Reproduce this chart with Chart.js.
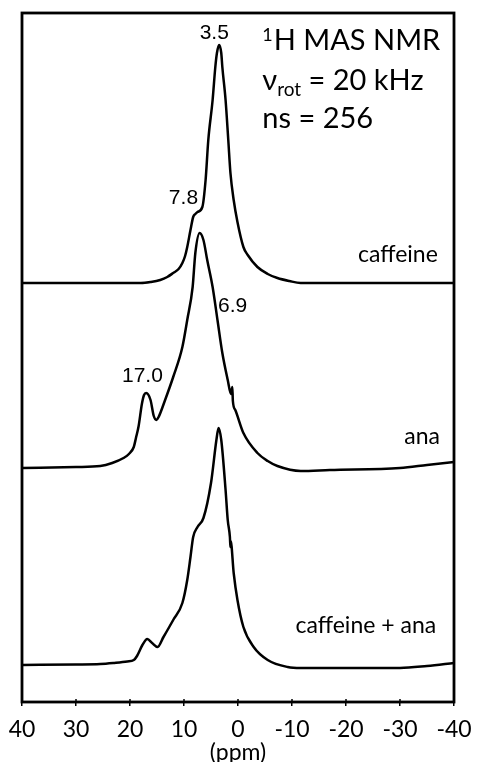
<!DOCTYPE html>
<html>
<head>
<meta charset="utf-8">
<script src="https://cdn.jsdelivr.net/npm/chart.js@4"></script>
<style>
  html, body { margin: 0; padding: 0; background: #fff; }
</style>
</head>
<body>
<canvas id="nmrChart" width="478" height="762"></canvas>
<script>
// Spectra: chemical shift (ppm) and intensity above each trace's own baseline
const caffeinePpm = [40, 25.5, 18, 16.2, 14.4, 13.1, 12, 11, 10.3, 9.8, 9.4, 8.8, 8.3, 7.9, 7.5, 6.6, 6.0, 5.5, 4.7, 4.2, 3.9, 3.5, 3.1, 2.9, 2.3, 1.8, 1.4, 0.8, 0.1, -1.0, -1.8, -3.6, -5.5, -7.3, -9.5, -11.6, -20, -30, -40];
const caffeineInt = [0, 0, 0, 1, 3, 6, 10, 14, 20, 27, 36, 53, 66, 69, 71, 76, 103, 143, 183, 216, 230, 238, 230, 216, 183, 143, 110, 83, 61, 36, 28, 16, 9, 5, 2, 0, 0, 0, 0];

const anaPpm = [40, 30, 25.5, 23.3, 21.2, 20.2, 19.3, 18.9, 18.4, 17.8, 17.4, 17.0, 16.2, 15.6, 15.1, 14.7, 13.5, 12.0, 10.3, 9.4, 8.4, 7.9, 7.1, 6.4, 5.7, 4.7, 3.8, 2.9, 1.9, 1.3, 1.05, 0.95, 0.5, -1.0, -3.6, -5.5, -7.3, -11.6, -17, -30, -35, -40];
const anaInt = [0, 1, 2, 5, 10, 14, 21, 30, 42, 64, 73, 75, 68, 52, 48, 51, 68, 91, 121, 148, 181, 215, 235, 228, 208, 181, 148, 115, 88, 74, 81, 67, 58, 35, 15, 7, 2, -3, -2, 0, 3, 6];

const mixPpm = [40, 30, 25.5, 23.1, 20.5, 19.3, 18.7, 17.7, 16.8, 15.9, 14.9, 13.8, 12.0, 10.3, 9.4, 8.8, 8.3, 7.5, 6.4, 5.0, 4.0, 3.6, 3.1, 2.3, 1.9, 1.5, 1.4, 1.35, 0.8, 0.1, -1.0, -2.9, -5.5, -9.2, -11.6, -20, -30, -35, -40];
const mixInt = [0, 0.5, 1, 2, 3.5, 5, 9, 20, 26, 22, 18, 28, 45, 62, 85, 108, 128, 138, 147, 182, 225, 237, 225, 175, 145, 128, 118, 124, 92, 65, 38, 18, 5, -2, -3, -3, -3, -1, 2];

const sampleNames = ["caffeine", "ana", "caffeine + ana"];
const stackOffsets = [419, 234, 37];

const xTicks = [40, 30, 20, 10, 0, -10, -20, -30, -40];

// peak labels: text, ppm, height (chart units)
const peakLabels = [
  { text: "3.5", ppm: 4.4, y: 669 },
  { text: "7.8", ppm: 10.1, y: 504 },
  { text: "6.9", ppm: 1.0, y: 396 },
  { text: "17.0", ppm: 17.7, y: 326 }
];
const nameLabels = [
  { text: sampleNames[0], ppm: -37.0, y: 447 },
  { text: sampleNames[1], ppm: -37.4, y: 265 },
  { text: sampleNames[2], ppm: -36.7, y: 76 }
];

function toPoints(ppm, intensity, offset) {
  return ppm.map((p, i) => ({ x: p, y: intensity[i] + offset }));
}

const SANS = "Lato, 'DejaVu Sans', sans-serif";

// box, inner ticks and all the text drawn on the plot
const overlayPlugin = {
  id: "overlay",
  afterDraw(chart) {
    const { ctx, chartArea: a, scales: { x, y } } = chart;
    ctx.save();
    ctx.strokeStyle = "#000";
    ctx.lineWidth = 2.8;
    ctx.strokeRect(a.left, a.top, a.right - a.left, a.bottom - a.top);

    ctx.lineWidth = 1.5;
    xTicks.forEach((t) => {
      const px = x.getPixelForValue(t);
      ctx.beginPath();
      ctx.moveTo(px, a.bottom);
      ctx.lineTo(px, a.bottom - 3);
      ctx.stroke();
    });

    ctx.fillStyle = "#000";
    ctx.textBaseline = "middle";
    ctx.textAlign = "center";
    ctx.font = "21px 'Liberation Sans', Arial, sans-serif";
    peakLabels.forEach((l) => {
      ctx.fillText(l.text, x.getPixelForValue(l.ppm), y.getPixelForValue(l.y));
    });

    ctx.textAlign = "right";
    ctx.font = "23px " + SANS;
    nameLabels.forEach((l) => {
      ctx.fillText(l.text, x.getPixelForValue(l.ppm), y.getPixelForValue(l.y));
    });

    // header block: 1H MAS NMR / nu_rot = 20 kHz / ns = 256
    ctx.textAlign = "left";
    ctx.textBaseline = "alphabetic";
    let hx = x.getPixelForValue(-4.5);
    let hy = y.getPixelForValue(652);
    ctx.font = "18px " + SANS;
    ctx.fillText("1", hx, hy - 9);
    hx += ctx.measureText("1").width + 1;
    ctx.font = "29px " + SANS;
    ctx.fillText("H MAS NMR", hx, hy);

    hx = x.getPixelForValue(-4.5);
    hy = y.getPixelForValue(612);
    ctx.font = "29px " + SANS;
    ctx.fillText("\u03BD", hx, hy);
    hx += ctx.measureText("\u03BD").width;
    ctx.font = "19px " + SANS;
    ctx.fillText("rot", hx, hy + 6);
    hx += ctx.measureText("rot").width;
    ctx.font = "29px " + SANS;
    ctx.fillText(" = 20 kHz", hx, hy);

    hx = x.getPixelForValue(-4.5);
    hy = y.getPixelForValue(574);
    ctx.fillText("ns = 256", hx, hy);
    ctx.restore();
  }
};

const traces = [
  toPoints(caffeinePpm, caffeineInt, stackOffsets[0]),
  toPoints(anaPpm, anaInt, stackOffsets[1]),
  toPoints(mixPpm, mixInt, stackOffsets[2])
];

new Chart(document.getElementById("nmrChart").getContext("2d"), {
  type: "scatter",
  data: {
    datasets: traces.map((pts, i) => ({
      label: sampleNames[i],
      data: pts,
      showLine: true,
      borderColor: "#000",
      borderWidth: 2.5,
      pointRadius: 0,
      cubicInterpolationMode: "monotone",
      fill: false
    }))
  },
  plugins: [overlayPlugin],
  options: {
    responsive: false,
    animation: false,
    devicePixelRatio: 1,
    layout: { padding: { left: 22, right: 24, top: 13, bottom: 0 } },
    plugins: {
      legend: { display: false },
      tooltip: { enabled: false }
    },
    scales: {
      x: {
        type: "linear",
        min: -40,
        max: 40,
        reverse: true,
        afterBuildTicks: (axis) => {
          axis.ticks = xTicks.map((v) => ({ value: v }));
        },
        afterFit: (axis) => {
          // fixed axis band; end labels may hang past the box like in the figure
          axis.height = 60;
          axis.paddingLeft = 0;
          axis.paddingRight = 0;
        },
        ticks: {
          color: "#000",
          font: { family: SANS, size: 23 },
          padding: 10
        },
        grid: {
          drawOnChartArea: false,
          color: "#000",
          lineWidth: 1.5,
          tickLength: 4
        },
        border: { display: false },
        title: {
          display: true,
          text: "(ppm)",
          color: "#000",
          font: { family: SANS, size: 23 },
          padding: { top: 0, bottom: -4 }
        }
      },
      y: {
        type: "linear",
        min: 0,
        max: 689,
        display: false
      }
    }
  }
});
</script>
</body>
</html>
